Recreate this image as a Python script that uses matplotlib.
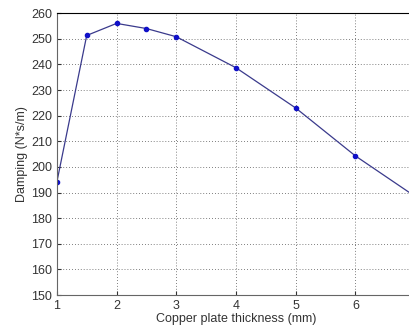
import matplotlib
matplotlib.use('Agg')
import matplotlib.pyplot as plt

thickness = [1, 1.5, 2, 2.5, 3, 4, 5, 6, 7]
damping = [194.1, 251.3, 256.0, 254.0, 250.8, 238.7, 223.0, 204.3, 188.5]
yticks = list(range(150, 261, 10))
xticks = [1, 2, 3, 4, 5, 6]

plt.rcParams['font.family'] = ['Liberation Sans', 'DejaVu Sans']

fig = plt.figure(figsize=(4.09, 3.29), dpi=100)
ax = fig.add_axes([0.139, 0.103, 0.876, 0.857])
ax.plot(thickness, damping, color='#3a3a8c', lw=0.9,
        marker='o', ms=3, mfc='#1010c8', mec='#1010c8')
ax.set_xlim(1, 7)
ax.set_ylim(150, 260)
ax.set_xticks(xticks)
ax.set_yticks(yticks)
ax.grid(True, linestyle=(0, (1, 2.5)), color='#555555', lw=0.6)
ax.tick_params(direction='in', labelsize=9, colors='#333333', length=3)
for s in ['left', 'bottom']:
    ax.spines[s].set_color('#666666')
ax.spines['top'].set_color('black')
ax.set_xlabel('Copper plate thickness (mm)', fontsize=9, color='#333333', labelpad=1)
ax.set_ylabel('Damping (N*s/m)', fontsize=9, color='#333333', labelpad=2)

fig.savefig('out.png', dpi=100)
